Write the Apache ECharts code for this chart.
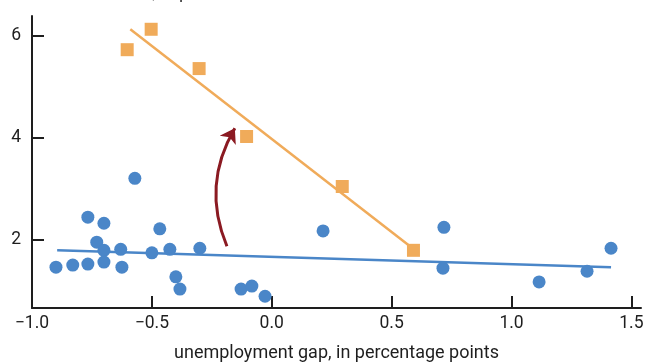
<!DOCTYPE html>
<html><head><meta charset="utf-8">
<script src="https://cdn.jsdelivr.net/npm/echarts@6/dist/echarts.min.js"></script>
<style>html,body{margin:0;padding:0;background:#fff}#c{width:646px;height:364px}</style>
</head><body><div id="c"></div>
<script>
const blueGap  = [-0.900,-0.830,-0.767,-0.767,-0.700,-0.730,-0.700,-0.700,-0.630,-0.625,-0.571,-0.500,-0.467,-0.425,-0.400,-0.383,-0.300,-0.128,-0.083,-0.028,0.214,0.718,0.714,1.115,1.315,1.415];
const blueInfl = [1.47,1.51,1.53,2.45,2.33,1.96,1.80,1.57,1.82,1.47,3.21,1.75,2.22,1.82,1.28,1.04,1.84,1.04,1.10,0.90,2.18,2.25,1.45,1.18,1.39,1.84];
const orangeGap  = [-0.603,-0.503,-0.303,-0.105,0.294,0.591];
const orangeInfl = [5.73,6.13,5.36,4.03,3.05,1.80];
const blueFitX = [-0.895, 1.415], blueFitY = [1.80, 1.47];
const orangeFitX = [-0.590, 0.590], orangeFitY = [6.13, 1.83];
const arrowX = [-0.187, -0.154], arrowY = [1.88, 4.19];
const xTicks = [-1.0,-0.5,0.0,0.5,1.0,1.5];
const yTicks = [2,4,6];

const BLUE = '#4a86c8', ORANGE = '#f0ab5a', RED = '#8b1a22', INK = '#1e1e1e';
const font = 'Roboto';
const zip = (a,b) => a.map((v,i)=>[v,b[i]]);
const fmt = v => (v < 0 ? '\u2212' : '') + Math.abs(v).toFixed(1);

const chart = echarts.init(document.getElementById('c'), null, {renderer:'canvas'});
chart.setOption({
  animation: false,
  title: { text: 'core PCE inflation, in percent', left: 10, top: -16, padding: 0,
    textStyle: { fontFamily: font, fontSize: 18, fontWeight: 'normal', color: '#333' } },
  grid: { left: 32, right: 5, top: 16, bottom: 56, containLabel: false, outerBoundsMode: 'none' },
  xAxis: {
    type: 'value', min: -1.0, max: 1.54,
    axisLine: { onZero: false, lineStyle: { color: INK, width: 2 } },
    axisTick: { inside: true, length: 12, customValues: xTicks, lineStyle: { color: INK, width: 2 } },
    axisLabel: { customValues: xTicks, formatter: fmt, margin: 7, fontFamily: font, fontSize: 17.5, color: INK },
    splitLine: { show: false },
    name: 'unemployment gap, in percentage points', nameLocation: 'middle', nameGap: 36,
    nameTextStyle: { fontFamily: font, fontSize: 18, color: INK }
  },
  yAxis: {
    type: 'value', min: 0.67, max: 6.39,
    axisLine: { show: true, onZero: false, lineStyle: { color: INK, width: 2 } },
    axisTick: { show: true, inside: true, length: 12, customValues: yTicks, lineStyle: { color: INK, width: 2 } },
    axisLabel: { customValues: yTicks, margin: 11, fontFamily: font, fontSize: 17.5, color: INK },
    splitLine: { show: false }
  },
  series: [
    { type: 'line', data: zip(blueFitX, blueFitY), showSymbol: false, symbol: 'none',
      lineStyle: { color: BLUE, width: 2.5 }, z: 2 },
    { type: 'line', data: zip(orangeFitX, orangeFitY), showSymbol: false, symbol: 'none',
      lineStyle: { color: ORANGE, width: 2.5 }, z: 2 },
    { type: 'scatter', data: zip(blueGap, blueInfl), symbol: 'circle', symbolSize: 13,
      itemStyle: { color: BLUE, opacity: 1 }, z: 3 },
    { type: 'scatter', data: zip(orangeGap, orangeInfl), symbol: 'rect', symbolSize: 13,
      itemStyle: { color: ORANGE, opacity: 1 }, z: 3 },
    { type: 'lines', coordinateSystem: 'cartesian2d', z: 4,
      symbol: ['none', 'arrow'], symbolSize: 14,
      lineStyle: { color: RED, width: 3, curveness: 0.25, opacity: 1 },
      data: [{ coords: zip(arrowX, arrowY) }] }
  ]
});
</script></body></html>
